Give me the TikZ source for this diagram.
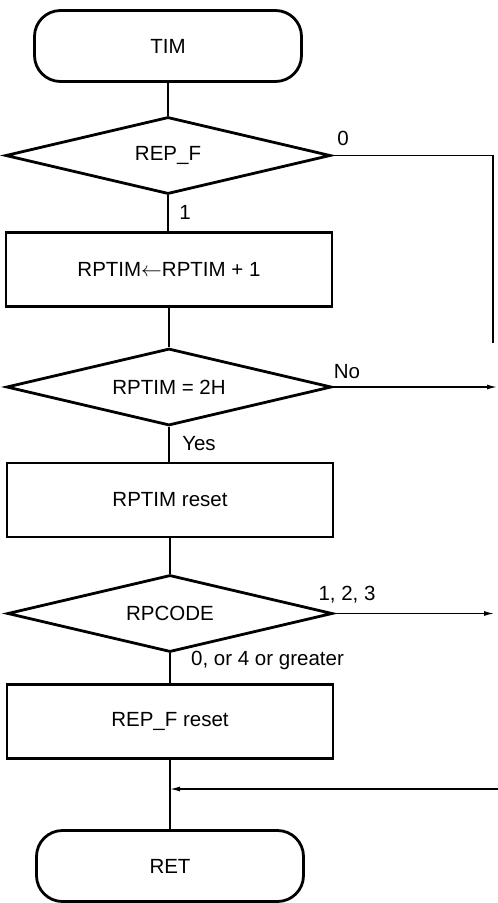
\documentclass[tikz,border=0pt]{standalone}
\usepackage{fontspec}
\setmainfont{Liberation Sans}
\usetikzlibrary{shapes.geometric,arrows.meta}

\tikzset{
  every node/.style={font=\fontsize{20.5}{24}\selectfont},
  terminal/.style={draw, line width=2.8pt, rounded corners=26pt,
    minimum width=267pt, minimum height=71pt, inner sep=0pt},
  procbox/.style={draw, line width=2.8pt, minimum width=326pt,
    minimum height=74pt, inner sep=0pt},
  decision/.style={draw, diamond, shape aspect=4.2, line width=2.8pt,
    minimum width=325pt, minimum height=77pt, inner sep=0pt},
  flow/.style={line width=1.3pt},
  flowarrow/.style={line width=1.3pt, -{Latex[length=10pt,width=5pt]}},
  lbl/.style={inner sep=0pt}
}

\begin{document}
\begin{tikzpicture}[x=1pt,y=-1pt]
\useasboundingbox (0,0) rectangle (498,903);

% main column
\node[terminal] (tim) at (168,46) {TIM};
\node[decision] (repf) at (168,155.5) {REP\_F};
\node[procbox] (inc) at (169,269.5) {RPTIM$\leftarrow$RPTIM + 1};
\node[decision] (chk) at (169,387) {RPTIM = 2H};
\node[procbox] (rst) at (170,500) {RPTIM reset};
\node[decision] (code) at (170,613.5) {RPCODE};
\node[procbox] (frst) at (170,721.5) {REP\_F reset};
\node[terminal] (ret) at (170,866) {RET};

% off-page ends
\coordinate (zeroA) at (493,155.5);
\coordinate (zeroB) at (493,343);
\coordinate (noEnd) at (497,387);
\coordinate (codeEnd) at (494,613.5);
\coordinate (backIn) at (498,789);

% vertical flow
\draw[flow] (tim.south) -- (repf.north);
\draw[flow] (repf.south) -- (repf.south |- inc.north);
\draw[flow] (inc.south) -- (chk.north);
\draw[flow] (chk.south) -- (chk.south |- rst.north);
\draw[flow] (rst.south) -- (code.north);
\draw[flow] (code.south) -- (code.south |- frst.north);
\draw[flow] (frst.south) -- (ret.north);

% branches
\draw[flow] (repf.east) -- (zeroA) -- (zeroB);
\draw[flowarrow] (chk.east) -- (noEnd);
\draw[flowarrow] (code.east) -- (codeEnd);
\draw[flowarrow] (backIn) -- (frst.south |- backIn);

% branch labels
\node[lbl] (l0) at (343,138) {0};
\node[lbl] (l1) at (185,212) {1};
\node[lbl] (lno) at (347,372) {No};
\node[lbl] (lyes) at (199,444) {Yes};
\node[lbl] (l123) at (347,595) {1, 2, 3};
\node[lbl, anchor=west] (lrest) at (191,660) {0, or 4 or greater};
\end{tikzpicture}
\end{document}
